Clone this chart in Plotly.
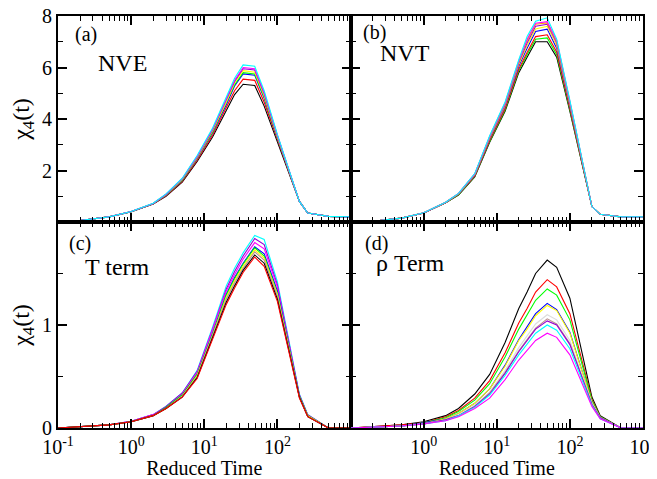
import plotly.graph_objects as go
from plotly.subplots import make_subplots

# reduced time points (shared by all curves)
times = [0.1, 0.2, 0.5, 1, 2, 3, 5, 8, 13, 20, 26, 34, 49, 66, 100, 200, 260, 500, 1000]

# xmgrace default colours
BLACK, RED, GREEN, BLUE = "#000000", "#ff0000", "#00ff00", "#0000ff"
YELLOW, BROWN, GREY, VIOLET = "#ffff00", "#bc8f8f", "#dcdcdc", "#9400d3"
CYAN, MAGENTA, ORANGE = "#00ffff", "#ff00ff", "#ffa500"

# (a) NVE
nve_black = [0.02, 0.06, 0.2, 0.4, 0.7, 1.0, 1.55, 2.35, 3.3, 4.3, 4.95, 5.35, 5.3, 4.5, 3.1, 0.8, 0.35, 0.22, 0.2]
nve_red = [0.02, 0.06, 0.2, 0.4, 0.7, 1.02, 1.58, 2.4, 3.38, 4.42, 5.1, 5.55, 5.5, 4.65, 3.2, 0.8, 0.35, 0.22, 0.2]
nve_blue = [0.02, 0.06, 0.2, 0.4, 0.71, 1.04, 1.62, 2.46, 3.47, 4.55, 5.28, 5.75, 5.7, 4.8, 3.25, 0.8, 0.35, 0.22, 0.2]
nve_green = [0.02, 0.06, 0.2, 0.4, 0.71, 1.05, 1.63, 2.48, 3.5, 4.6, 5.33, 5.8, 5.75, 4.85, 3.28, 0.8, 0.35, 0.22, 0.2]
nve_yellow = [0.02, 0.06, 0.2, 0.41, 0.72, 1.06, 1.65, 2.5, 3.54, 4.65, 5.4, 5.88, 5.82, 4.9, 3.3, 0.8, 0.35, 0.22, 0.2]
nve_violet = [0.02, 0.06, 0.2, 0.41, 0.72, 1.07, 1.67, 2.53, 3.58, 4.72, 5.46, 5.95, 5.9, 4.98, 3.35, 0.8, 0.35, 0.22, 0.2]
nve_magenta = [0.02, 0.06, 0.2, 0.41, 0.72, 1.08, 1.68, 2.55, 3.6, 4.75, 5.5, 6.0, 5.95, 5.02, 3.37, 0.8, 0.35, 0.22, 0.2]
nve_cyan = [0.02, 0.06, 0.2, 0.41, 0.73, 1.09, 1.7, 2.58, 3.65, 4.82, 5.58, 6.1, 6.05, 5.1, 3.4, 0.8, 0.35, 0.22, 0.2]

# (b) NVT
nvt_black = [0.0, 0.03, 0.15, 0.35, 0.75, 1.05, 1.75, 3.1, 4.3, 5.8, 6.4, 7.0, 7.0, 6.4, 4.3, 0.6, 0.3, 0.2, 0.2]
nvt_green = [0.0, 0.03, 0.15, 0.35, 0.75, 1.06, 1.77, 3.13, 4.35, 5.87, 6.5, 7.1, 7.15, 6.5, 4.35, 0.6, 0.3, 0.2, 0.2]
nvt_red = [0.0, 0.03, 0.15, 0.35, 0.75, 1.07, 1.79, 3.16, 4.4, 5.93, 6.58, 7.2, 7.27, 6.6, 4.4, 0.6, 0.3, 0.2, 0.2]
nvt_blue = [0.0, 0.03, 0.15, 0.35, 0.76, 1.08, 1.82, 3.22, 4.48, 6.05, 6.75, 7.4, 7.49, 6.75, 4.5, 0.6, 0.3, 0.2, 0.2]
nvt_yellow = [0.0, 0.03, 0.15, 0.35, 0.76, 1.09, 1.84, 3.25, 4.52, 6.12, 6.85, 7.5, 7.6, 6.85, 4.55, 0.6, 0.3, 0.2, 0.2]
nvt_violet = [0.0, 0.03, 0.15, 0.35, 0.76, 1.1, 1.85, 3.28, 4.56, 6.18, 6.95, 7.6, 7.68, 6.95, 4.6, 0.6, 0.3, 0.2, 0.2]
nvt_orange = [0.0, 0.03, 0.15, 0.36, 0.77, 1.1, 1.86, 3.3, 4.6, 6.22, 7.05, 7.68, 7.73, 7.0, 4.65, 0.6, 0.3, 0.2, 0.2]
nvt_magenta = [0.0, 0.03, 0.15, 0.36, 0.77, 1.11, 1.87, 3.32, 4.62, 6.25, 7.1, 7.72, 7.78, 7.05, 4.68, 0.6, 0.3, 0.2, 0.2]
nvt_cyan = [0.0, 0.03, 0.15, 0.36, 0.77, 1.11, 1.88, 3.35, 4.66, 6.3, 7.2, 7.8, 7.93, 7.1, 4.72, 0.6, 0.3, 0.2, 0.2]

# (c) T term
tt_red = [0.0, 0.01, 0.03, 0.06, 0.12, 0.19, 0.3, 0.48, 0.86, 1.2, 1.36, 1.51, 1.66, 1.57, 1.23, 0.29, 0.11, 0.0, 0.0]
tt_black = [0.0, 0.01, 0.03, 0.06, 0.12, 0.19, 0.3, 0.49, 0.87, 1.22, 1.38, 1.53, 1.68, 1.6, 1.25, 0.3, 0.11, 0.0, 0.0]
tt_brown = [0.0, 0.01, 0.03, 0.06, 0.12, 0.19, 0.31, 0.5, 0.89, 1.25, 1.41, 1.55, 1.71, 1.63, 1.28, 0.3, 0.11, 0.0, 0.0]
tt_yellow = [0.0, 0.01, 0.03, 0.06, 0.12, 0.19, 0.31, 0.51, 0.9, 1.27, 1.43, 1.57, 1.73, 1.65, 1.3, 0.3, 0.12, 0.0, 0.0]
tt_green = [0.0, 0.01, 0.03, 0.06, 0.12, 0.2, 0.32, 0.52, 0.91, 1.29, 1.45, 1.59, 1.75, 1.67, 1.31, 0.31, 0.12, 0.0, 0.0]
tt_blue = [0.0, 0.01, 0.03, 0.06, 0.12, 0.2, 0.32, 0.52, 0.92, 1.3, 1.46, 1.6, 1.76, 1.69, 1.33, 0.31, 0.12, 0.0, 0.0]
tt_magenta = [0.0, 0.01, 0.03, 0.065, 0.13, 0.2, 0.33, 0.54, 0.95, 1.33, 1.49, 1.64, 1.8, 1.74, 1.37, 0.32, 0.12, 0.0, 0.0]
tt_violet = [0.0, 0.01, 0.03, 0.065, 0.13, 0.21, 0.34, 0.55, 0.96, 1.35, 1.52, 1.67, 1.84, 1.78, 1.39, 0.32, 0.13, 0.0, 0.0]
tt_cyan = [0.0, 0.01, 0.03, 0.065, 0.13, 0.21, 0.34, 0.56, 0.98, 1.38, 1.55, 1.7, 1.87, 1.83, 1.42, 0.33, 0.13, 0.0, 0.0]

# (d) rho term
rt_black = [0.0, 0.01, 0.03, 0.06, 0.12, 0.19, 0.33, 0.52, 0.83, 1.16, 1.32, 1.5, 1.63, 1.56, 1.26, 0.3, 0.12, 0.0, 0.0]
rt_red = [0.0, 0.01, 0.03, 0.05, 0.11, 0.17, 0.29, 0.46, 0.73, 1.02, 1.16, 1.32, 1.44, 1.37, 1.11, 0.28, 0.11, 0.0, 0.0]
rt_green = [0.0, 0.01, 0.02, 0.05, 0.1, 0.16, 0.27, 0.43, 0.69, 0.96, 1.1, 1.24, 1.35, 1.29, 1.05, 0.27, 0.11, 0.0, 0.0]
rt_blue = [0.0, 0.01, 0.02, 0.05, 0.09, 0.14, 0.24, 0.38, 0.61, 0.86, 0.98, 1.11, 1.21, 1.15, 0.93, 0.25, 0.1, 0.0, 0.0]
rt_yellow = [0.0, 0.01, 0.02, 0.04, 0.09, 0.14, 0.24, 0.38, 0.6, 0.85, 0.96, 1.09, 1.19, 1.14, 0.92, 0.25, 0.1, 0.0, 0.0]
rt_grey = [0.0, 0.01, 0.02, 0.04, 0.08, 0.13, 0.22, 0.35, 0.56, 0.78, 0.89, 1.01, 1.1, 1.05, 0.85, 0.24, 0.1, 0.0, 0.0]
rt_brown = [0.0, 0.01, 0.02, 0.04, 0.08, 0.12, 0.21, 0.34, 0.54, 0.75, 0.86, 0.97, 1.06, 1.01, 0.82, 0.23, 0.1, 0.0, 0.0]
rt_violet = [0.0, 0.01, 0.02, 0.04, 0.08, 0.12, 0.21, 0.33, 0.53, 0.74, 0.85, 0.96, 1.04, 1.0, 0.81, 0.23, 0.1, 0.0, 0.0]
rt_cyan = [0.0, 0.01, 0.02, 0.04, 0.07, 0.12, 0.2, 0.32, 0.51, 0.71, 0.81, 0.92, 1.0, 0.95, 0.77, 0.22, 0.09, 0.0, 0.0]
rt_magenta = [0.0, 0.01, 0.02, 0.04, 0.07, 0.11, 0.19, 0.29, 0.47, 0.66, 0.75, 0.85, 0.92, 0.88, 0.71, 0.21, 0.09, 0.0, 0.0]

panels = [
    (1, 1, [(nve_black, BLACK), (nve_red, RED), (nve_blue, BLUE), (nve_green, GREEN),
            (nve_yellow, YELLOW), (nve_violet, VIOLET), (nve_magenta, MAGENTA), (nve_cyan, CYAN)]),
    (1, 2, [(nvt_black, BLACK), (nvt_green, GREEN), (nvt_red, RED), (nvt_blue, BLUE),
            (nvt_yellow, YELLOW), (nvt_violet, VIOLET), (nvt_orange, ORANGE),
            (nvt_magenta, MAGENTA), (nvt_cyan, CYAN)]),
    (2, 1, [(tt_cyan, CYAN), (tt_violet, VIOLET), (tt_magenta, MAGENTA), (tt_blue, BLUE),
            (tt_green, GREEN), (tt_yellow, YELLOW), (tt_brown, BROWN), (tt_black, BLACK), (tt_red, RED)]),
    (2, 2, [(rt_black, BLACK), (rt_red, RED), (rt_green, GREEN), (rt_blue, BLUE),
            (rt_yellow, YELLOW), (rt_grey, GREY), (rt_brown, BROWN), (rt_violet, VIOLET),
            (rt_cyan, CYAN), (rt_magenta, MAGENTA)]),
]

panel_labels = ["(a)", "(b)", "(c)", "(d)"]
panel_names = ["NVE", "NVT", "T term", "ρ Term"]

xtick_left = [0.1, 1, 10, 100]
xtick_right = [1, 10, 100, 1000]
xtick_text_left = ["10<sup>-1</sup>", "10<sup>0</sup>", "10<sup>1</sup>", "10<sup>2</sup>"]
xtick_text_right = ["10<sup>0</sup>", "10<sup>1</sup>", "10<sup>2</sup>", "10<sup>3</sup>"]
ytick_top = [2, 4, 6, 8]
ytick_bottom = [0, 1]

FONT = "'Liberation Serif', 'Times New Roman', serif"

fig = make_subplots(rows=2, cols=2, horizontal_spacing=0, vertical_spacing=0)

for row, col, curves in panels:
    for values, color in curves:
        fig.add_trace(
            go.Scatter(x=times, y=values, mode="lines",
                       line=dict(color=color, width=1.1), showlegend=False),
            row=row, col=col
        )

minor_log = [m * 10 ** e for e in range(-1, 3) for m in range(2, 10)]
axis_style = dict(showline=True, linecolor="black", linewidth=2, mirror="ticks",
                  ticks="inside", ticklen=9, tickwidth=1.5, tickcolor="black",
                  showgrid=False, zeroline=False, automargin=False,
                  ticklabeloverflow="allow",
                  tickfont=dict(family=FONT, size=20, color="black"))

for row in (1, 2):
    for col in (1, 2):
        xs = dict(axis_style)
        xs.update(type="log", range=[-1, 3],
                  minor=dict(tickvals=minor_log, ticks="inside", ticklen=5,
                             tickwidth=1, tickcolor="black", showgrid=False))
        if row == 2:
            xs.update(tickvals=xtick_left if col == 1 else xtick_right,
                      ticktext=xtick_text_left if col == 1 else xtick_text_right,
                      showticklabels=True)
            xs["title"] = dict(text="Reduced Time", font=dict(family=FONT, size=20, color="black"),
                               standoff=0)
        else:
            xs.update(tickvals=xtick_left, showticklabels=False)
        fig.update_xaxes(row=row, col=col, **xs)

        ys = dict(axis_style)
        if row == 1:
            ys.update(range=[0, 8], tickvals=[0] + ytick_top,
                      ticktext=[""] + [str(v) for v in ytick_top],
                      minor=dict(tickvals=[1, 3, 5, 7], ticks="inside", ticklen=5,
                                 tickwidth=1, tickcolor="black", showgrid=False))
        else:
            ys.update(range=[0, 2], tickvals=ytick_bottom + [2],
                      ticktext=[str(v) for v in ytick_bottom] + [""],
                      minor=dict(tickvals=[0.5, 1.5], ticks="inside", ticklen=5,
                                 tickwidth=1, tickcolor="black", showgrid=False))
        ys["showticklabels"] = col == 1
        if col == 1:
            ys["title"] = dict(text="χ<sub>4</sub>(t)", font=dict(family=FONT, size=24, color="black"),
                               standoff=6)
        fig.update_yaxes(row=row, col=col, **ys)

# plot area in window pixels; the page body adds an 8px offset
OFF = 8
L, R, T, B = 58, 643, 16, 428
W, H = 657 - OFF, 479 - OFF


def px(x, y):
    return (x - L) / (R - L), (B - y) / (B - T)


label_pos = [(86, 35), (374, 33), (80, 243), (377, 243)]
name_pos = [(122, 63), (405, 53), (117, 267), (410, 263)]
for lab, name, lp, npos in zip(panel_labels, panel_names, label_pos, name_pos):
    ax, ay = px(*lp)
    fig.add_annotation(x=ax, y=ay, xref="paper", yref="paper", text=lab, showarrow=False,
                       xanchor="center", yanchor="middle",
                       font=dict(family=FONT, size=20, color="black"))
    ax, ay = px(*npos)
    fig.add_annotation(x=ax, y=ay, xref="paper", yref="paper", text=name, showarrow=False,
                       xanchor="center", yanchor="middle",
                       font=dict(family=FONT, size=24, color="black"))

fig.update_layout(
    width=W, height=H,
    margin=dict(l=L - OFF, r=W - (R - OFF), t=T - OFF, b=H - (B - OFF), autoexpand=False),
    paper_bgcolor="white", plot_bgcolor="white",
    font=dict(family=FONT, color="black"),
)

fig.write_html("out.html")
